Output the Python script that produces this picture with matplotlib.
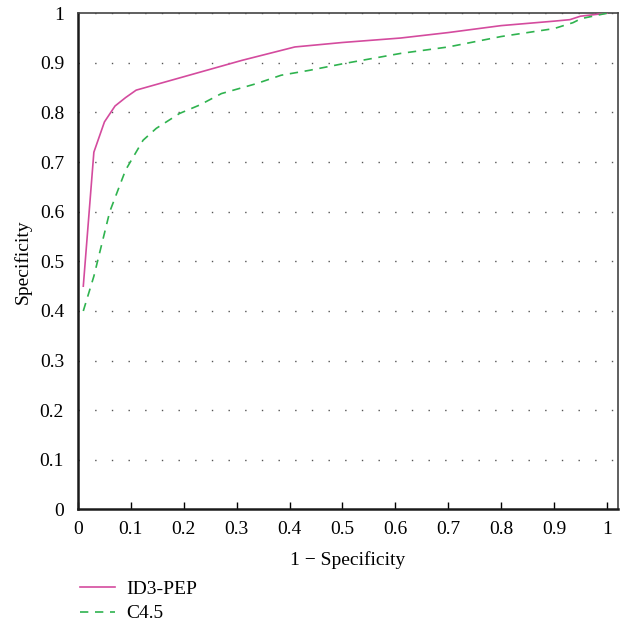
import matplotlib.pyplot as plt

# ROC-style curves
id3_x = [0.01, 0.03, 0.05, 0.07, 0.09, 0.11, 0.2, 0.31, 0.41, 0.5, 0.61, 0.7, 0.8, 0.9, 0.93, 0.95, 1.0]
id3_y = [0.45, 0.72, 0.781, 0.813, 0.83, 0.845, 0.872, 0.905, 0.932, 0.941, 0.95, 0.961, 0.975, 0.984, 0.987, 0.994, 1.0]

c45_x = [0.01, 0.03, 0.06, 0.09, 0.123, 0.148, 0.192, 0.23, 0.271, 0.337, 0.384, 0.438, 0.5, 0.61, 0.7, 0.8, 0.9, 0.936, 0.951, 1.0]
c45_y = [0.40, 0.47, 0.60, 0.684, 0.744, 0.768, 0.798, 0.815, 0.838, 0.858, 0.875, 0.885, 0.898, 0.919, 0.932, 0.953, 0.969, 0.981, 0.989, 1.0]

xticks = [0, 0.1, 0.2, 0.3, 0.4, 0.5, 0.6, 0.7, 0.8, 0.9, 1]
xticklabels = ['0', '0.1', '0.2', '0.3', '0.4', '0.5', '0.6', '0.7', '0.8', '0.9', '1']
yticks = xticks
yticklabels = xticklabels

plt.rcParams['font.family'] = ['Liberation Serif', 'DejaVu Serif']

fig = plt.figure(figsize=(6.25, 6.29), dpi=100)
ax = fig.add_axes([0.1248, 0.19, 0.8632, 0.789])

for y in yticks[1:]:
    ax.axhline(y, color='#555555', lw=1.0, linestyle=(0, (1, 11)), zorder=1)

ax.plot(id3_x, id3_y, color='#d44b9e', lw=1.2, label='ID3-PEP', zorder=3)
ax.plot(c45_x, c45_y, color='#2fb34f', lw=1.2, linestyle=(0, (5, 4)), label='C4.5', zorder=3)

ax.set_xlim(0, 1.02)
ax.set_ylim(0, 1)
ax.set_xticks(xticks)
ax.set_xticklabels(xticklabels)
ax.set_yticks(yticks)
ax.set_yticklabels(yticklabels)
ax.tick_params(axis='x', direction='in', length=5, width=1, pad=8, labelsize=14)
ax.tick_params(axis='y', length=0, pad=10, labelsize=14)

for s in ['left', 'bottom']:
    ax.spines[s].set_linewidth(1.8)
    ax.spines[s].set_color('#1a1a1a')
for s in ['top', 'right']:
    ax.spines[s].set_linewidth(1.2)
    ax.spines[s].set_color('#444444')

ax.set_xlabel('1 \u2212 Specificity', fontsize=14, labelpad=10)
ax.set_ylabel('Specificity', fontsize=14, labelpad=6)

fig.legend(loc='upper left', bbox_to_anchor=(0.1, 0.105), frameon=False,
           fontsize=14, handlelength=1.8, handletextpad=0.6, labelspacing=0.35)

fig.savefig('out.png', dpi=100)
